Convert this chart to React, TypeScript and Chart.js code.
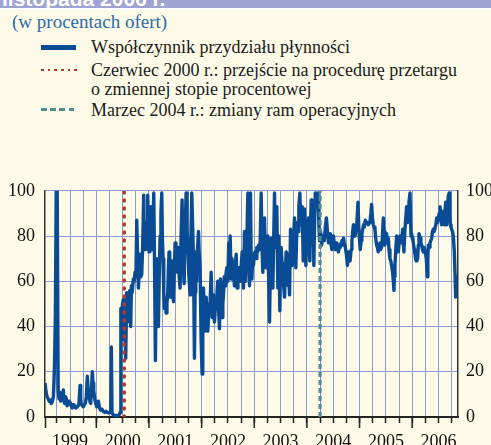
import React, { useEffect, useRef } from "react";
import { Chart, registerables } from "chart.js";
Chart.register(...registerables);

// decimal years of each observation
const dates: number[] = [
  1999.025, 1999.045, 1999.065, 1999.085, 1999.105, 1999.125, 1999.145, 1999.165, 1999.185, 1999.205,
  1999.222, 1999.238, 1999.257, 1999.275, 1999.291, 1999.307, 1999.322, 1999.338, 1999.354, 1999.373,
  1999.386, 1999.399, 1999.415, 1999.43, 1999.446, 1999.462, 1999.481, 1999.5, 1999.52, 1999.544,
  1999.565, 1999.589, 1999.61, 1999.639, 1999.655, 1999.671, 1999.69, 1999.703, 1999.715, 1999.735,
  1999.753, 1999.772, 1999.791, 1999.81, 1999.829, 1999.845, 1999.861, 1999.877, 1999.893, 1999.91,
  1999.924, 1999.937, 1999.95, 1999.969, 1999.988, 2000.007, 2000.023, 2000.039, 2000.06, 2000.083,
  2000.108, 2000.134, 2000.16, 2000.184, 2000.21, 2000.241, 2000.273, 2000.285, 2000.298, 2000.318,
  2000.343, 2000.368, 2000.4, 2000.431, 2000.452, 2000.466, 2000.482, 2000.498, 2000.514, 2000.527,
  2000.54, 2000.558, 2000.577, 2000.593, 2000.609, 2000.62, 2000.635, 2000.653, 2000.667, 2000.679,
  2000.704, 2000.72, 2000.736, 2000.752, 2000.768, 2000.785, 2000.799, 2000.815, 2000.831, 2000.846,
  2000.862, 2000.88, 2000.9, 2000.913, 2000.926, 2000.938, 2000.951, 2000.963, 2000.976, 2000.99,
  2001.002, 2001.018, 2001.033, 2001.046, 2001.059, 2001.075, 2001.091, 2001.105, 2001.122, 2001.135,
  2001.148, 2001.164, 2001.179, 2001.195, 2001.211, 2001.227, 2001.243, 2001.256, 2001.268, 2001.281,
  2001.293, 2001.309, 2001.325, 2001.341, 2001.357, 2001.37, 2001.382, 2001.395, 2001.407, 2001.42,
  2001.433, 2001.448, 2001.464, 2001.48, 2001.496, 2001.512, 2001.528, 2001.544, 2001.56, 2001.575,
  2001.591, 2001.61, 2001.629, 2001.648, 2001.667, 2001.686, 2001.705, 2001.721, 2001.737, 2001.759,
  2001.781, 2001.797, 2001.813, 2001.829, 2001.845, 2001.864, 2001.876, 2001.889, 2001.905, 2001.922,
  2001.94, 2001.955, 2001.971, 2001.99, 2002.009, 2002.022, 2002.035, 2002.05, 2002.066, 2002.086,
  2002.117, 2002.14, 2002.162, 2002.181, 2002.2, 2002.212, 2002.225, 2002.244, 2002.26, 2002.276,
  2002.292, 2002.307, 2002.323, 2002.339, 2002.358, 2002.374, 2002.39, 2002.403, 2002.415, 2002.43,
  2002.447, 2002.462, 2002.478, 2002.497, 2002.516, 2002.53, 2002.542, 2002.561, 2002.577, 2002.593,
  2002.608, 2002.624, 2002.64, 2002.656, 2002.675, 2002.69, 2002.707, 2002.722, 2002.738, 2002.755,
  2002.77, 2002.785, 2002.795, 2002.814, 2002.825, 2002.833, 2002.846, 2002.859, 2002.878, 2002.893,
  2002.909, 2002.928, 2002.941, 2002.954, 2002.97, 2002.985, 2003.0, 2003.017, 2003.033, 2003.049,
  2003.065, 2003.08, 2003.097, 2003.112, 2003.131, 2003.147, 2003.163, 2003.18, 2003.195, 2003.21,
  2003.226, 2003.242, 2003.258, 2003.274, 2003.29, 2003.305, 2003.321, 2003.337, 2003.353, 2003.37,
  2003.385, 2003.395, 2003.404, 2003.417, 2003.429, 2003.44, 2003.448, 2003.458, 2003.467, 2003.476,
  2003.486, 2003.498, 2003.511, 2003.527, 2003.543, 2003.559, 2003.575, 2003.59, 2003.606, 2003.626,
  2003.645, 2003.658, 2003.67, 2003.689, 2003.705, 2003.721, 2003.74, 2003.765, 2003.778, 2003.79,
  2003.803, 2003.816, 2003.831, 2003.847, 2003.866, 2003.879, 2003.892, 2003.911, 2003.93, 2003.943,
  2003.955, 2003.968, 2003.98, 2003.993, 2004.006, 2004.018, 2004.031, 2004.044, 2004.056, 2004.07,
  2004.082, 2004.092, 2004.101, 2004.112, 2004.12, 2004.132, 2004.145, 2004.158, 2004.17, 2004.183,
  2004.196, 2004.209, 2004.228, 2004.24, 2004.259, 2004.28, 2004.3, 2004.33, 2004.35, 2004.37,
  2004.39, 2004.41, 2004.43, 2004.445, 2004.46, 2004.475, 2004.49, 2004.505, 2004.52, 2004.54,
  2004.555, 2004.57, 2004.585, 2004.6, 2004.62, 2004.635, 2004.65, 2004.665, 2004.68, 2004.695,
  2004.71, 2004.73, 2004.75, 2004.77, 2004.79, 2004.805, 2004.82, 2004.84, 2004.855, 2004.87,
  2004.885, 2004.9, 2004.915, 2004.935, 2004.95, 2004.97, 2004.985, 2005.0, 2005.013, 2005.03,
  2005.045, 2005.06, 2005.077, 2005.09, 2005.108, 2005.13, 2005.15, 2005.165, 2005.197, 2005.215,
  2005.229, 2005.245, 2005.26, 2005.276, 2005.292, 2005.308, 2005.324, 2005.34, 2005.355, 2005.37,
  2005.387, 2005.4, 2005.419, 2005.435, 2005.451, 2005.466, 2005.482, 2005.498, 2005.514, 2005.53,
  2005.546, 2005.56, 2005.577, 2005.593, 2005.609, 2005.628, 2005.642, 2005.653, 2005.662, 2005.672,
  2005.688, 2005.704, 2005.72, 2005.736, 2005.752, 2005.767, 2005.783, 2005.799, 2005.818, 2005.83,
  2005.843, 2005.862, 2005.878, 2005.894, 2005.913, 2005.926, 2005.939, 2005.958, 2005.977, 2005.99,
  2006.002, 2006.015, 2006.027, 2006.04, 2006.053, 2006.065, 2006.078, 2006.09, 2006.103, 2006.116,
  2006.129, 2006.141, 2006.154, 2006.166, 2006.179, 2006.195, 2006.211, 2006.227, 2006.243, 2006.255,
  2006.268, 2006.287, 2006.297, 2006.306, 2006.322, 2006.338, 2006.354, 2006.37, 2006.385, 2006.401,
  2006.417, 2006.433, 2006.449, 2006.465, 2006.48, 2006.496, 2006.512, 2006.528, 2006.545, 2006.559,
  2006.575, 2006.591, 2006.6, 2006.61, 2006.622, 2006.636, 2006.646, 2006.655, 2006.67, 2006.686,
  2006.705, 2006.715, 2006.724, 2006.737, 2006.75, 2006.765, 2006.781, 2006.8, 2006.815, 2006.826,
];

// allotment ratio, % of bids
const ratio: number[] = [
  15, 11, 9, 8, 7, 7.5, 6, 7, 9, 22,
  45, 100, 100, 12, 8, 11, 7, 10, 8, 12,
  7, 6, 9, 8, 5, 6, 7, 6.5, 5, 4,
  5.5, 5, 4, 4.5, 5, 6, 14, 8, 5.5, 5,
  4.5, 5.5, 6, 9, 18, 12, 9, 7, 6, 13,
  20, 15, 12, 8, 6, 4.5, 6, 7, 4, 3,
  3.5, 2.5, 2, 2.5, 2, 1.8, 2, 31, 2, 1,
  0.8, 0.7, 0.7, 0.8, 2, 48, 46, 50, 52, 34,
  50, 26, 55, 42, 54, 44, 56, 40, 58, 55,
  61, 60, 64, 62, 87, 70, 57, 65, 72, 62,
  63, 75, 98, 78, 74, 80, 86, 76, 98, 79,
  73, 80, 93, 78, 74, 82, 99, 70, 25, 55,
  70, 52, 40, 62, 80, 90, 99, 78, 70, 55,
  48, 52, 46, 50, 55, 66, 73, 60, 53, 62,
  69, 58, 51, 64, 77, 70, 68, 64, 75, 62,
  57, 80, 96, 70, 59, 80, 99, 83, 77, 62,
  54, 80, 99, 85, 70, 26, 55, 73, 60, 74,
  82, 72, 66, 35, 19, 42, 57, 45, 38, 53,
  38, 48, 51, 64, 44, 50, 54, 42, 48, 51,
  55, 60, 48, 39, 61, 50, 44, 50, 54, 62,
  58, 63, 66, 60, 77, 70, 80, 61, 70, 67,
  64, 58, 66, 72, 57, 64, 66, 62, 60, 68,
  73, 62, 57, 82, 62, 60, 70, 77, 99, 75,
  58, 99, 72, 61, 70, 67, 72, 73, 70, 75,
  73, 76, 74, 77, 99, 75, 64, 80, 88, 72,
  66, 75, 80, 60, 42, 65, 79, 66, 57, 80,
  99, 82, 75, 86, 93, 70, 57, 68, 80, 62,
  47, 64, 75, 68, 61, 58, 53, 64, 73, 72,
  58, 62, 54, 83, 75, 67, 76, 88, 75, 66,
  78, 86, 82, 93, 99, 90, 85, 93, 69, 80,
  92, 78, 67, 75, 82, 86, 88, 78, 69, 85,
  96, 88, 80, 90, 92, 67, 85, 99, 95, 93,
  97, 99, 85, 78, 82, 76, 80, 78, 84, 88,
  82, 77, 80, 81, 76, 74, 78, 80, 76, 74,
  77, 76, 74, 73, 76, 75, 77, 78, 76, 79,
  77, 75, 72, 67, 73, 71, 69, 74, 78, 82,
  85, 83, 80, 84, 86, 95, 84, 78, 74, 78,
  81, 83, 85, 84, 87, 86, 86, 85, 86, 90,
  94, 88, 85, 84, 83, 79, 76, 75, 73, 76,
  77, 74, 75, 80, 88, 82, 76, 79, 81, 78,
  79, 74, 70, 69, 67, 64, 60, 56, 62, 67,
  74, 80, 76, 73, 77, 80, 79, 77, 83, 78,
  73, 83, 88, 93, 86, 90, 95, 99, 80, 81,
  79, 78, 76, 74, 72, 70, 69, 71, 70, 76,
  81, 80, 79, 77, 76, 74, 73, 75, 75, 72,
  70, 62, 70, 76, 75, 77, 78, 79, 82, 83,
  82, 82, 85, 88, 86, 88, 90, 93, 88, 85,
  88, 91, 86, 85, 90, 95, 88, 85, 92, 98,
  99, 90, 85, 84, 83, 82, 80, 73, 62, 53,
];

// event markers (June 2000, March 2004)
const juneX: number[] = [2000.53, 2000.53];
const marchX: number[] = [2004.25, 2004.25];
const markerY: number[] = [0, 100];

const yearLabels: string[] = ["1999", "2000", "2001", "2002", "2003", "2004", "2005", "2006"];
const yTicks: number[] = [0, 20, 40, 60, 80, 100];

const X_MIN = 1999.025;
const X_MAX = 2006.87;

const BG = "#fdfbe7";
const GRID = "#8e9bd3";
const BLUE = "#0a4b95";
const RED = "#b2382c";
const TEAL = "#4a8d92";
const SERIF = "'Liberation Serif', 'Times New Roman', serif";

const yearTickPlugin = {
  id: "yearTicks",
  afterDraw(chart: any) {
    const xs = chart.scales.x;
    const ctx = chart.ctx;
    const bottom = chart.chartArea.bottom;
    ctx.save();
    ctx.strokeStyle = "#222";
    ctx.lineWidth = 1.5;
    const positions: number[] = [chart.chartArea.left + 0.5];
    yearLabels.forEach((y) => {
      const v = Number(y);
      if (v > X_MIN && v < X_MAX) positions.push(xs.getPixelForValue(v));
    });
    positions.forEach((px) => {
      ctx.beginPath();
      ctx.moveTo(px, bottom);
      ctx.lineTo(px, bottom + 11);
      ctx.stroke();
    });
    ctx.restore();
  },
};

function ChartBox() {
  const ref = useRef<HTMLCanvasElement | null>(null);
  useEffect(() => {
    if (!ref.current) return;
    const quarters: number[] = [];
    yearLabels.forEach((y) => {
      [0, 0.25, 0.5, 0.75].forEach((q) => {
        const v = Number(y) + q;
        if (v > X_MIN && v < X_MAX) quarters.push(v);
      });
    });
    const yAxisCommon = {
      min: 0,
      max: 100,
      afterBuildTicks: (s: any) => {
        s.ticks = yTicks.map((v) => ({ value: v }));
      },
      ticks: {
        color: "#111",
        font: { family: SERIF, size: 18 },
      },
    };
    const chart = new Chart(ref.current, {
      type: "line",
      data: {
        datasets: [
          {
            label: "Czerwiec 2000",
            data: juneX.map((x, i) => ({ x, y: markerY[i] })),
            borderColor: RED,
            borderWidth: 3.5,
            borderDash: [1, 7],
            borderCapStyle: "round",
            pointRadius: 0,
            order: 1,
          },
          {
            label: "Marzec 2004",
            data: marchX.map((x, i) => ({ x, y: markerY[i] })),
            borderColor: TEAL,
            borderWidth: 3.2,
            borderDash: [5, 3],
            pointRadius: 0,
            order: 2,
          },
          {
            label: "Współczynnik przydziału płynności",
            data: dates.map((x, i) => ({ x, y: ratio[i] })),
            borderColor: BLUE,
            borderWidth: 3.4,
            borderJoinStyle: "round",
            pointRadius: 0,
            tension: 0,
            order: 3,
          },
        ],
      },
      options: {
        animation: false,
        responsive: false,
        devicePixelRatio: 1,
        layout: { padding: { top: 18, left: 0, right: 0, bottom: 0 } },
        plugins: { legend: { display: false }, tooltip: { enabled: false } },
        scales: {
          x: {
            type: "linear",
            min: X_MIN,
            max: X_MAX,
            afterBuildTicks: (s: any) => {
              s.ticks = quarters.map((v) => ({ value: v }));
            },
            afterFit: (s: any) => {
              s.height = 43;
            },
            grid: {
              color: GRID,
              lineWidth: 1,
              tickLength: 6,
              tickColor: "#222",
              tickWidth: 1.5,
            },
            border: { display: true, color: "#222", width: 2 },
            ticks: {
              autoSkip: false,
              maxRotation: 0,
              padding: 8,
              color: "#111",
              font: { family: SERIF, size: 18 },
              callback: (v: any) => {
                const n = Number(v);
                const f = Math.floor(n);
                return Math.abs(n - f - 0.5) < 1e-6 ? String(f) : "";
              },
            },
          },
          y: {
            ...yAxisCommon,
            position: "left",
            afterFit: (s: any) => {
              s.width = 45;
            },
            grid: { color: GRID, lineWidth: 1, drawTicks: false },
            border: { display: true, color: "#333", width: 1.5 },
            ticks: { ...yAxisCommon.ticks, padding: 10 },
          },
          y2: {
            ...yAxisCommon,
            position: "right",
            afterFit: (s: any) => {
              s.width = 33;
            },
            grid: { display: false, drawTicks: false },
            border: { display: true, color: "#333", width: 1.5 },
            ticks: { ...yAxisCommon.ticks, padding: 8 },
          },
        },
      } as any,
      plugins: [yearTickPlugin],
    });
    return () => chart.destroy();
  }, []);
  return <canvas ref={ref} width={491} height={290} style={{ position: "absolute", left: 0, top: 170, width: 491, height: 290 }} />;
}

const textRow = (top: number, text: string) => (
  <div
    style={{
      position: "absolute",
      left: 91,
      top,
      fontFamily: SERIF,
      fontSize: 18,
      lineHeight: "20px",
      color: "#1a1a1a",
      whiteSpace: "nowrap",
    }}
  >
    {text}
  </div>
);

export default function App() {
  return (
    <div
      style={{
        position: "fixed",
        left: 0,
        top: 0,
        width: 491,
        height: 445,
        overflow: "hidden",
        background: BG,
      }}
    >
      <div style={{ position: "absolute", left: 0, top: 0, width: 491, height: 8, background: "#9ea3d1", overflow: "hidden" }}>
        <div
          style={{
            position: "absolute",
            left: 2,
            top: -13,
            fontFamily: "'Liberation Sans', Arial, sans-serif",
            fontWeight: "bold",
            fontSize: 21,
            lineHeight: "24px",
            color: "#ffffff",
            whiteSpace: "nowrap",
          }}
        >
          listopada 2006 r.
        </div>
      </div>
      <div style={{ position: "absolute", left: 0, top: 8, width: 491, height: 2, background: "#ffffff" }} />
      <div
        style={{
          position: "absolute",
          left: 12,
          top: 12,
          fontFamily: SERIF,
          fontSize: 19,
          lineHeight: "20px",
          color: "#2c6aa9",
          whiteSpace: "nowrap",
        }}
      >
        (w procentach ofert)
      </div>
      <div style={{ position: "absolute", left: 41, top: 45, width: 35, height: 4.5, background: BLUE }} />
      <div
        style={{
          position: "absolute",
          left: 41,
          top: 68.5,
          width: 36,
          height: 2.6,
          background: `repeating-linear-gradient(to right, ${RED} 0 2.6px, transparent 2.6px 6.7px)`,
        }}
      />
      <div
        style={{
          position: "absolute",
          left: 41,
          top: 108,
          width: 36,
          height: 3.2,
          background: `repeating-linear-gradient(to right, ${TEAL} 0 5.7px, transparent 5.7px 9.2px)`,
        }}
      />
      {textRow(37.2, "Współczynnik przydziału płynności")}
      {textRow(60.2, "Czerwiec 2000 r.: przejście na procedurę przetargu")}
      {textRow(79.2, "o zmiennej stopie procentowej")}
      {textRow(100.2, "Marzec 2004 r.: zmiany ram operacyjnych")}
      <ChartBox />
    </div>
  );
}
